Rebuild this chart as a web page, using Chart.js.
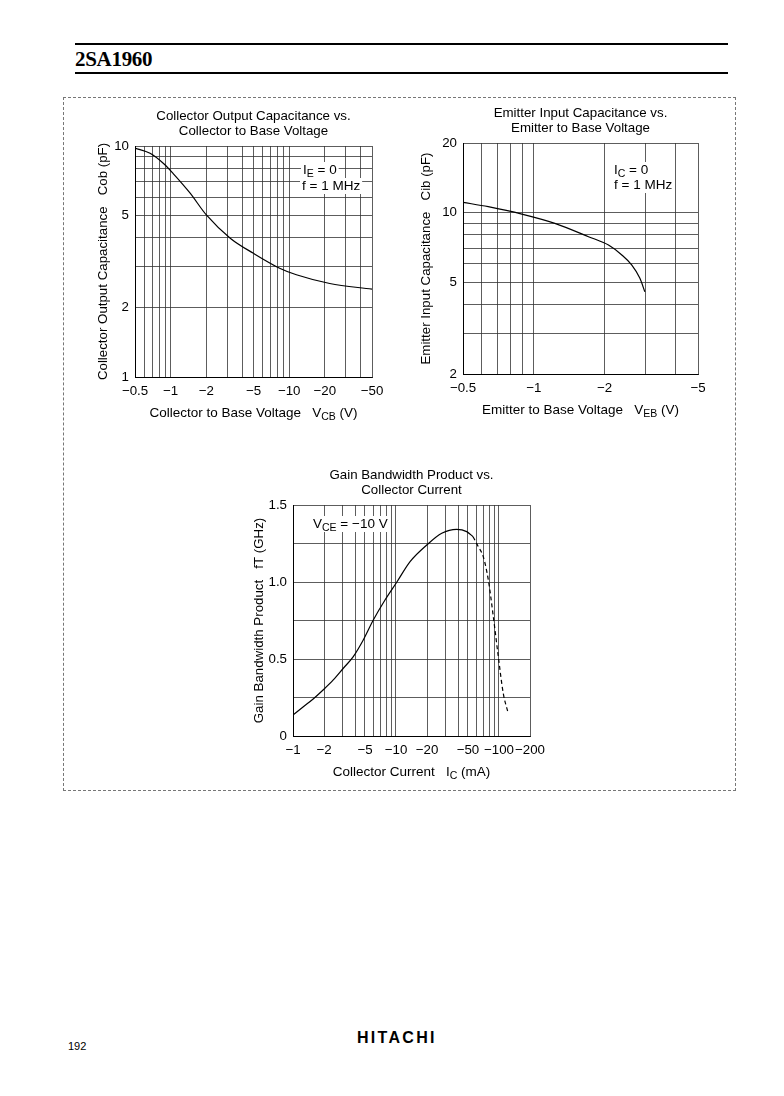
<!DOCTYPE html>
<html>
<head>
<meta charset="utf-8">
<script src="https://cdn.jsdelivr.net/npm/chart.js@4.4.0/dist/chart.umd.min.js"></script>
<style>
  body { margin: 0; background: #fff; width: 784px; height: 1096px; position: relative; overflow: hidden; font-family: "Liberation Sans", Arial, sans-serif; }
  .abs { position: absolute; }
  canvas { position: absolute; }
</style>
</head>
<body>
<div class="abs" style="left:75px;top:43px;width:653px;height:2px;background:#000"></div>
<div class="abs" style="left:75px;top:47px;font:bold 21px 'Liberation Serif','Times New Roman',serif;letter-spacing:-0.3px">2SA1960</div>
<div class="abs" style="left:75px;top:72px;width:653px;height:2px;background:#000"></div>
<div class="abs" style="left:63px;top:97px;width:671px;height:692px;border:1px dashed #777"></div>
<div class="abs" style="left:68px;top:1040px;font-size:11px">192</div>
<div class="abs" style="left:357px;top:1029px;font:bold 16px 'Liberation Sans',Arial,sans-serif;letter-spacing:2.3px">HITACHI</div>

<canvas id="cob" width="298" height="320" style="left:91px;top:104px;width:298px;height:320px"></canvas>
<canvas id="cib" width="294" height="320" style="left:414px;top:101px;width:294px;height:320px"></canvas>
<canvas id="ft" width="303" height="320" style="left:247px;top:463px;width:303px;height:320px"></canvas>

<script>
// Collector output capacitance vs collector-base voltage (magnitudes, V and pF)
const cobVolt = [0.5, 0.67, 0.87, 1.05, 1.46, 2, 3.2, 5, 8.4, 11.5, 22, 50];
const cobCap = [9.8, 9.3, 8.4, 7.6, 6.25, 5.03, 3.98, 3.43, 2.95, 2.77, 2.54, 2.4];
const cobXTicks = [0.5, 0.6, 0.7, 0.8, 0.9, 1, 2, 3, 4, 5, 6, 7, 8, 9, 10, 20, 30, 40, 50];
const cobXLabels = [0.5, 1, 2, 5, 10, 20, 50];
const cobYTicks = [1, 2, 3, 4, 5, 6, 7, 8, 9, 10];
const cobYLabels = [1, 2, 5, 10];

// Emitter input capacitance vs emitter-base voltage
const cibVolt = [0.5, 0.64, 0.89, 1.23, 1.71, 2.08, 2.37, 2.61, 2.83, 2.97];
const cibCap = [11.07, 10.6, 9.85, 8.98, 7.86, 7.23, 6.55, 5.93, 5.19, 4.54];
const cibXTicks = [0.5, 0.6, 0.7, 0.8, 0.9, 1, 2, 3, 4, 5];
const cibXLabels = [0.5, 1, 2, 5];
const cibYTicks = [2, 3, 4, 5, 6, 7, 8, 9, 10, 20];
const cibYLabels = [2, 5, 10, 20];

// Gain bandwidth product vs collector current (mA, GHz)
const ftCurr = [1, 1.26, 1.57, 1.97, 2.46, 3.08, 3.85, 4.81, 6.02, 7.82, 10.2, 13.7, 19.9, 27.8, 38.8, 48.6, 56];
const ftGhz = [0.136, 0.19, 0.24, 0.3, 0.364, 0.44, 0.515, 0.623, 0.753, 0.883, 1.0, 1.132, 1.24, 1.316, 1.342, 1.327, 1.294];
const ftDashCurr = [56, 63, 70.4, 78.8, 88.1, 98.5, 110, 123];
const ftDashGhz = [1.294, 1.229, 1.164, 1.013, 0.775, 0.515, 0.277, 0.147];
const ftXTicks = [1, 2, 3, 4, 5, 6, 7, 8, 9, 10, 20, 30, 40, 50, 60, 70, 80, 90, 100, 200];
const ftXLabels = [1, 2, 5, 10, 20, 50, 100, 200];
const ftYLabels = [0, 0.5, 1, 1.5];

const FONT = "'Liberation Sans', Arial, sans-serif";
const FS = 13.3;
Chart.defaults.font.family = FONT;
Chart.defaults.font.size = FS;
Chart.defaults.color = '#000';

function drawParts(ctx, parts, x, y, size) {
  let cx = x;
  for (const [t, sub] of parts) {
    ctx.font = (sub ? size * 0.78 : size) + 'px ' + FONT;
    ctx.fillText(t, cx, y + (sub ? size * 0.3 : 0));
    cx += ctx.measureText(t).width;
  }
  return cx - x;
}

function partsWidth(ctx, parts, size) {
  let w = 0;
  for (const [t, sub] of parts) {
    ctx.font = (sub ? size * 0.78 : size) + 'px ' + FONT;
    w += ctx.measureText(t).width;
  }
  return w;
}

// chart titles, in-plot notes and x axis titles, centred on the plot area
const notesPlugin = {
  id: 'notes',
  afterDraw(chart, args, opts) {
    const ctx = chart.ctx;
    const a = chart.chartArea;
    const mid = (a.left + a.right) / 2;
    ctx.save();
    ctx.textBaseline = 'middle';
    ctx.textAlign = 'left';
    (opts.title || []).forEach((t, i) => {
      ctx.fillStyle = '#000';
      const w = partsWidth(ctx, [[t]], FS);
      drawParts(ctx, [[t]], mid - w / 2, a.top - 30 + i * 15, FS);
    });
    (opts.lines || []).forEach((ln) => {
      const w = partsWidth(ctx, ln.parts, 13.5);
      ctx.fillStyle = '#fff';
      ctx.fillRect(a.left + ln.dx - 2, a.top + ln.dy - 8, w + 4, 16);
      ctx.fillStyle = '#000';
      drawParts(ctx, ln.parts, a.left + ln.dx, a.top + ln.dy, 13.5);
    });
    if (opts.xTitle) {
      ctx.fillStyle = '#000';
      const w = partsWidth(ctx, opts.xTitle, 13.5);
      drawParts(ctx, opts.xTitle, mid - w / 2, a.bottom + 36, 13.5);
    }
    ctx.restore();
  },
};
Chart.register(notesPlugin);

function logAxis(min, max, ticks, labels, fmt) {
  return {
    type: 'logarithmic',
    min: min,
    max: max,
    afterBuildTicks: (s) => { s.ticks = ticks.map((v) => ({ value: v })); },
    ticks: {
      autoSkip: false,
      maxRotation: 0,
      padding: 6,
      callback: (v) => (labels.includes(v) ? fmt(v) : ''),
    },
    grid: { color: '#333', lineWidth: 0.8, drawTicks: false },
    border: { display: true, color: '#000', width: 1 },
  };
}

const neg = (v) => '\u2212' + v;

function makeChart(id, cfg) {
  return new Chart(document.getElementById(id), {
    type: 'line',
    data: { datasets: cfg.datasets },
    options: {
      responsive: false,
      animation: false,
      devicePixelRatio: 1,
      layout: { padding: { top: 42, right: cfg.padRight || 10 } },
      plugins: {
        legend: { display: false },
        tooltip: { enabled: false },
        title: { display: false },
        notes: cfg.notes,
      },
      scales: {
        x: Object.assign(cfg.x, {
          afterFit: (s) => { s.height = 47; s.paddingLeft = 0; s.paddingRight = 0; },
        }),
        y: Object.assign(cfg.y, {
          afterFit: (s) => { s.width = cfg.yWidth; s.paddingTop = 0; s.paddingBottom = 0; },
          title: { display: true, text: cfg.yTitle, font: { size: FS }, padding: { top: 4, bottom: 0 } },
        }),
      },
    },
  });
}

function curve(xs, ys, dash) {
  return {
    data: xs.map((x, i) => ({ x: x, y: ys[i] })),
    borderColor: '#000',
    borderWidth: 1.2,
    borderDash: dash || [],
    pointRadius: 0,
    cubicInterpolationMode: 'monotone',
    fill: false,
  };
}

makeChart('cob', {
  datasets: [curve(cobVolt, cobCap)],
  x: logAxis(0.5, 50, cobXTicks, cobXLabels, neg),
  y: logAxis(1, 10, cobYTicks, cobYLabels, String),
  yWidth: 44,
  padRight: 17,
  yTitle: 'Collector Output Capacitance   Cob (pF)',
  notes: {
    title: ['Collector Output Capacitance vs.', 'Collector to Base Voltage'],
    lines: [
      { parts: [['I'], ['E', true], [' = 0']], dx: 168, dy: 24 },
      { parts: [['f = 1 MHz']], dx: 167, dy: 40 },
    ],
    xTitle: [['Collector to Base Voltage   V'], ['CB', true], [' (V)']],
  },
});

makeChart('cib', {
  datasets: [curve(cibVolt, cibCap)],
  x: logAxis(0.5, 5, cibXTicks, cibXLabels, neg),
  y: logAxis(2, 20, cibYTicks, cibYLabels, String),
  yWidth: 49,
  yTitle: 'Emitter Input Capacitance   Cib (pF)',
  notes: {
    title: ['Emitter Input Capacitance vs.', 'Emitter to Base Voltage'],
    lines: [
      { parts: [['I'], ['C', true], [' = 0']], dx: 151, dy: 27 },
      { parts: [['f = 1 MHz']], dx: 151, dy: 42 },
    ],
    xTitle: [['Emitter to Base Voltage   V'], ['EB', true], [' (V)']],
  },
});

makeChart('ft', {
  datasets: [curve(ftCurr, ftGhz), curve(ftDashCurr, ftDashGhz, [4, 3])],
  x: logAxis(1, 200, ftXTicks, ftXLabels, neg),
  y: {
    type: 'linear',
    min: 0,
    max: 1.5,
    ticks: {
      stepSize: 0.25,
      padding: 6,
      callback: (v) => (ftYLabels.includes(v) ? (v === 0 ? '0' : v.toFixed(1)) : ''),
    },
    grid: { color: '#333', lineWidth: 0.8, drawTicks: false },
    border: { display: true, color: '#000', width: 1 },
  },
  yWidth: 46,
  padRight: 20,
  yTitle: 'Gain Bandwidth Product   fT (GHz)',
  notes: {
    title: ['Gain Bandwidth Product vs.', 'Collector Current'],
    lines: [
      { parts: [['V'], ['CE', true], [' = \u221210 V']], dx: 20, dy: 19 },
    ],
    xTitle: [['Collector Current   I'], ['C', true], [' (mA)']],
  },
});
</script>
</body>
</html>
